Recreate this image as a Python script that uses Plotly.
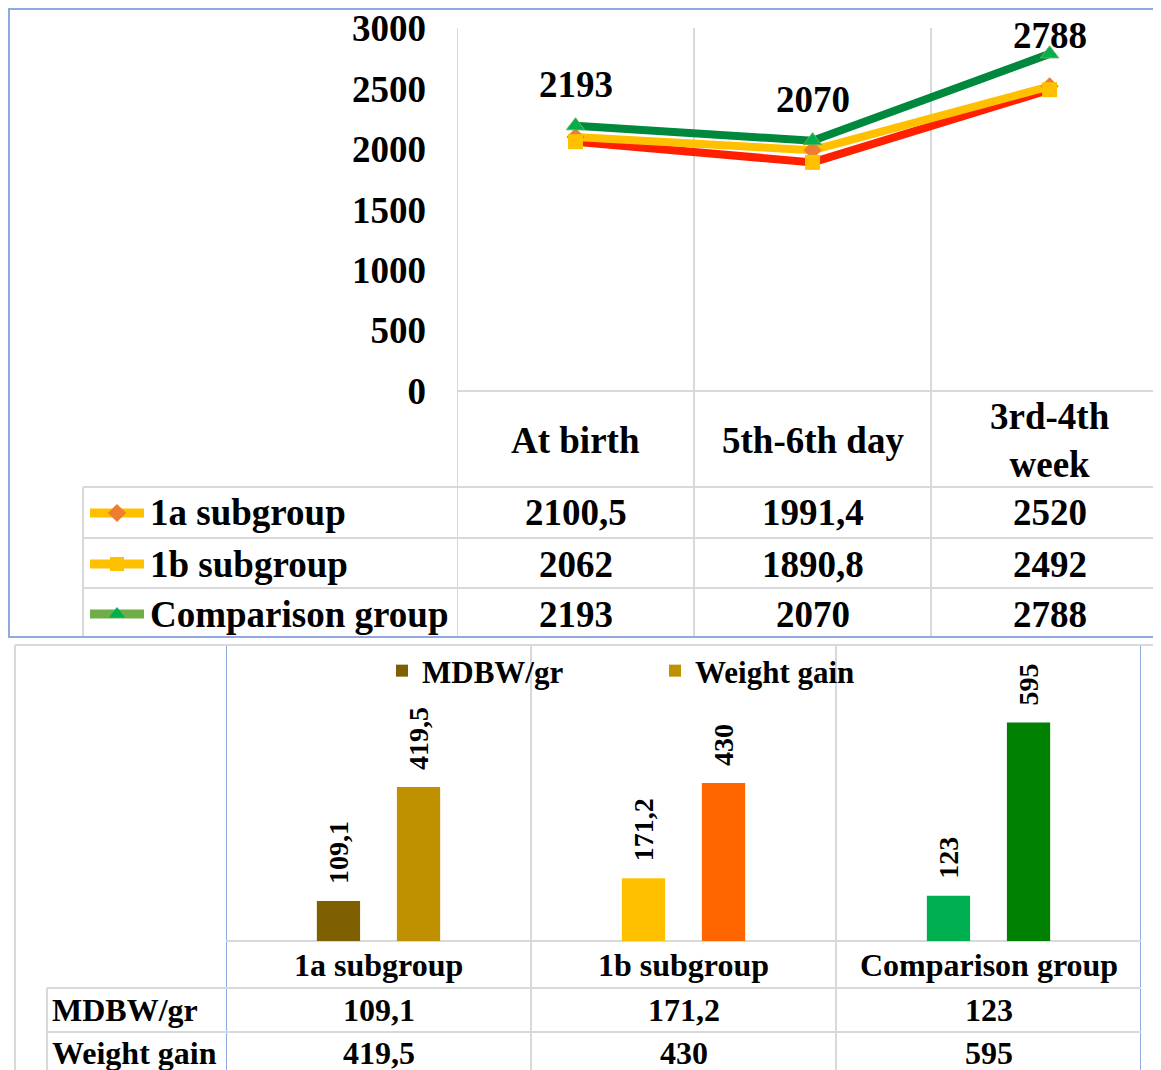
import plotly.graph_objects as go

W, H = 1161, 1070          # browser window
OFF = 8                    # default page margin around the plot div
FW, FH = W - OFF, H - OFF  # figure size so that it fills the window
FONT = "Liberation Serif"

# ---------------- data ----------------
top_categories = ["At birth", "5th-6th day", "3rd-4th<br>week"]
series_names = ["1a subgroup", "1b subgroup", "Comparison group"]
series_1a = [2100.5, 1991.4, 2520]
series_1b = [2062, 1890.8, 2492]
series_comp = [2193, 2070, 2788]
y_ticks = [0, 500, 1000, 1500, 2000, 2500, 3000]

bottom_groups = ["1a subgroup", "1b subgroup", "Comparison group"]
bar_series_names = ["MDBW/gr", "Weight gain"]
mdbw = [109.1, 171.2, 123]
weight_gain = [419.5, 430, 595]
mdbw_colors = ["#7f6000", "#ffc000", "#00b050"]
wg_colors = ["#bf9000", "#ff6600", "#008000"]


def fmt(v):
    return f"{v:g}".replace(".", ",")


def px(x):
    return (x - OFF) / FW


def py(y):
    return 1 - (y - OFF) / FH


GRAY = "#d9d9d9"
BLUE = "#8faadc"
idx = list(range(3))

# top chart vertical geometry (window pixels)
TOP_Y0, TOP_Y1 = 391, 28
Y_MAX = 3002
fig = go.Figure()

# ---------------- top line chart ----------------
fig.add_trace(go.Scatter(x=idx, y=series_1b, mode="lines", line=dict(color="#ff2000", width=8),
                         showlegend=False, xaxis="x", yaxis="y", cliponaxis=False))
fig.add_trace(go.Scatter(x=idx, y=series_1a, mode="lines+markers", line=dict(color="#ffc000", width=8),
                         marker=dict(symbol="diamond", size=14, color="#ed7d31"),
                         showlegend=False, xaxis="x", yaxis="y", cliponaxis=False))
fig.add_trace(go.Scatter(x=idx, y=series_1b, mode="markers",
                         marker=dict(symbol="square", size=15, color="#ffc000"),
                         showlegend=False, xaxis="x", yaxis="y", cliponaxis=False))
fig.add_trace(go.Scatter(x=idx, y=series_comp, mode="lines+markers", line=dict(color="#00893d", width=8),
                         marker=dict(symbol="triangle-up", size=16, color="#00b050",
                                     line=dict(color="#70ad47", width=1)),
                         showlegend=False, xaxis="x", yaxis="y", cliponaxis=False))

# ---------------- bottom bar chart ----------------
BARF = dict(family=FONT, size=28, color="black", weight="bold")
fig.add_trace(go.Bar(x=idx, y=mdbw, name=bar_series_names[0], marker=dict(color=mdbw_colors, line=dict(width=0)),
                     text=["\u00a0\u00a0" + fmt(v) for v in mdbw], textposition="outside", textangle=-90,
                     textfont=BARF, constraintext="none",
                     cliponaxis=False, xaxis="x2", yaxis="y2"))
fig.add_trace(go.Bar(x=idx, y=weight_gain, name=bar_series_names[1], marker=dict(color=wg_colors, line=dict(width=0)),
                     text=["\u00a0\u00a0" + fmt(v) for v in weight_gain], textposition="outside", textangle=-90,
                     textfont=BARF, constraintext="none",
                     cliponaxis=False, xaxis="x2", yaxis="y2"))

# ---------------- legend keys for the top data table (overlay axes in window pixel space) ----------------
key_rows = [513, 564, 614]
key_line_colors = ["#ffc000", "#ffc000", "#70ad47"]
key_symbols = ["diamond", "square", "triangle-up"]
key_marker_colors = ["#ed7d31", "#ffc000", "#00b050"]
for r, lc, sym, mc in zip(key_rows, key_line_colors, key_symbols, key_marker_colors):
    fig.add_trace(go.Scatter(x=[90, 144], y=[r, r], mode="lines", line=dict(color=lc, width=9),
                             showlegend=False, xaxis="x3", yaxis="y3", hoverinfo="skip"))
    fig.add_trace(go.Scatter(x=[117], y=[r], mode="markers", marker=dict(symbol=sym, size=14, color=mc),
                             showlegend=False, xaxis="x3", yaxis="y3", hoverinfo="skip"))

shapes = []


def hline(y, x0, x1, color=GRAY, width=2):
    shapes.append(dict(type="line", xref="paper", yref="paper", x0=px(x0), x1=px(x1), y0=py(y), y1=py(y),
                       line=dict(color=color, width=width), layer="below"))


def vline(x, y0, y1, color=GRAY, width=2, xref="paper"):
    xx = px(x) if xref == "paper" else x
    shapes.append(dict(type="line", xref=xref, yref="paper", x0=xx, x1=xx, y0=py(y0), y1=py(y1),
                       line=dict(color=color, width=width), layer="below"))


# top panel grid / table
for b in [-0.5, 0.5, 1.5]:
    vline(b, 28, 637, xref="x")
hline(391, 457, 1161)
for y in [487, 538, 588]:
    hline(y, 83, 1161)
vline(83, 487, 637)
# top panel border
hline(9, 8, 1161, BLUE)
vline(9, 8, 637, BLUE)
hline(637, 8, 1161, BLUE)

# bottom panel grid / table
for b in [0.5, 1.5]:
    vline(b, 645, 1070, xref="x2")
for b in [-0.5, 2.5]:
    vline(b, 645, 1070, color=BLUE, xref="x2")
hline(941, 226, 1141)
for y in [988, 1032]:
    hline(y, 47, 1141)
vline(47, 988, 1070)
hline(645, 15, 1161)
vline(15, 645, 1070)

annotations = []
TOPF = dict(family=FONT, size=37, color="black", weight="bold")
BOTF = dict(family=FONT, size=32, color="black", weight="bold")

# data labels for comparison group (kept inside the chart area, like the original)
px_per_unit = (TOP_Y0 - TOP_Y1) / Y_MAX
for i, v in enumerate(series_comp):
    ypix = TOP_Y0 - v * px_per_unit
    centre = max(ypix - 41, 35)
    annotations.append(dict(x=i, y=v, xref="x", yref="y", text=str(v), showarrow=False,
                            yshift=ypix - centre, font=TOPF))

# top table
for i, c in enumerate(top_categories):
    annotations.append(dict(x=i, y=py(440), xref="x", yref="paper", text=c, showarrow=False, font=TOPF,
                            yanchor="middle"))
for r, name, vals in zip(key_rows, series_names, [series_1a, series_1b, series_comp]):
    annotations.append(dict(x=px(148), y=py(r), xref="paper", yref="paper", text=name, showarrow=False,
                            xanchor="left", yanchor="middle", font=TOPF))
    for i, v in enumerate(vals):
        annotations.append(dict(x=i, y=py(r), xref="x", yref="paper", text=fmt(v), showarrow=False,
                                yanchor="middle", font=TOPF))

# bottom table
for i, g in enumerate(bottom_groups):
    annotations.append(dict(x=i, y=py(965), xref="x2", yref="paper", text=g, showarrow=False, font=BOTF,
                            yanchor="middle"))
for r, name, vals in zip([1010, 1053], bar_series_names, [mdbw, weight_gain]):
    annotations.append(dict(x=px(50), y=py(r), xref="paper", yref="paper", text=name, showarrow=False,
                            xanchor="left", yanchor="middle", font=BOTF))
    for i, v in enumerate(vals):
        annotations.append(dict(x=i, y=py(r), xref="x2", yref="paper", text=fmt(v), showarrow=False,
                                yanchor="middle", font=BOTF))

fig.update_layout(
    template="none",
    width=FW, height=FH,
    margin=dict(l=0, r=0, t=0, b=0, pad=0, autoexpand=False),
    paper_bgcolor="white", plot_bgcolor="rgba(0,0,0,0)",
    barmode="group", bargap=0.475, bargroupgap=0.46,
    showlegend=True,
    legend=dict(orientation="h", x=px(382), y=py(671), xanchor="left", yanchor="middle",
                font=dict(family=FONT, size=31, color="black", weight="bold"),
                entrywidth=228, entrywidthmode="pixels", bgcolor="rgba(0,0,0,0)", borderwidth=0),
    xaxis=dict(domain=[px(457), 1], range=[-0.5, 2.47], showticklabels=False, showgrid=False,
               zeroline=False, showline=False, fixedrange=True, automargin=False),
    yaxis=dict(domain=[py(TOP_Y0), py(TOP_Y1)], range=[0, Y_MAX], tickvals=y_ticks, showgrid=False,
               zeroline=False, showline=False, ticks="", ticklabelstandoff=30, automargin=False,
               ticklabeloverflow="allow",
               tickfont=dict(family=FONT, size=37, color="black", weight="bold")),
    xaxis2=dict(domain=[px(226), px(1141)], range=[-0.5, 2.5], showticklabels=False, showgrid=False,
                zeroline=False, showline=False, anchor="y2", automargin=False),
    yaxis2=dict(domain=[py(941), py(645)], range=[0, 806], showticklabels=False, showgrid=False,
                zeroline=False, showline=False, anchor="x2", automargin=False),
    xaxis3=dict(domain=[0, 1], range=[OFF, W], visible=False, anchor="y3", automargin=False),
    yaxis3=dict(domain=[0, 1], range=[H, OFF], visible=False, anchor="x3", automargin=False),
    shapes=shapes,
    annotations=annotations,
)

fig.write_html("out.html")
